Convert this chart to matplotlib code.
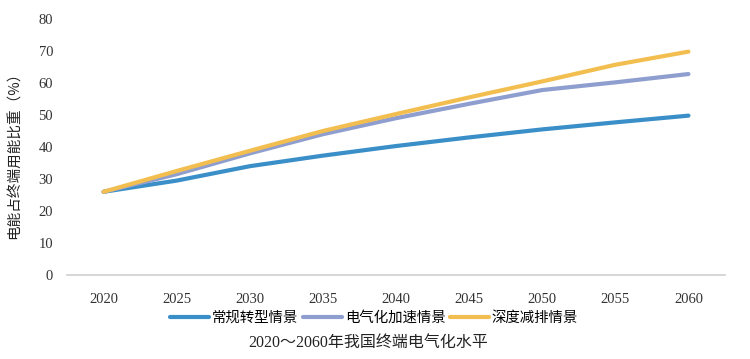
import matplotlib
matplotlib.use("Agg")
import matplotlib.pyplot as plt

years = ["2020", "2025", "2030", "2035", "2040", "2045", "2050", "2055", "2060"]
series_names = ["常规转型情景", "电气化加速情景", "深度减排情景"]
conventional = [26, 29.5, 34, 37.3, 40.3, 43, 45.5, 47.7, 49.8]
electrified = [26, 31.5, 38, 44, 49, 53.5, 57.8, 60.2, 62.8]
deep_cut = [26, 32.5, 38.8, 45, 50.3, 55.5, 60.5, 65.7, 69.8]
yticks = [0, 10, 20, 30, 40, 50, 60, 70, 80]
colors = ["#3A8FC8", "#8E9ECF", "#F3BE50"]

plt.rcParams['font.family'] = ['Noto Sans CJK SC', 'DejaVu Sans']

fig = plt.figure(figsize=(7.5, 3.59), dpi=100)
ax = fig.add_axes([67/750, 1-275/359, (725-67)/750, (275-19)/359])

x = list(range(len(years)))
for vals, name, c in zip([conventional, electrified, deep_cut], series_names, colors):
    ax.plot(x, vals, color=c, lw=3, label=name, solid_capstyle='round')

ax.set_xlim(-0.5, len(years)-0.5)
ax.set_ylim(0, 80)
ax.set_yticks(yticks)
ax.set_xticks(x)
ax.set_xticklabels(years)
for lab in ax.get_xticklabels() + ax.get_yticklabels():
    lab.set_family(['Liberation Serif'])
    lab.set_fontsize(10.5)
    lab.set_color('#333333')
ax.tick_params(axis='both', length=0)
ax.tick_params(axis='x', pad=13)
ax.tick_params(axis='y', pad=10)
for s in ['top', 'right', 'left']:
    ax.spines[s].set_visible(False)
ax.spines['bottom'].set_color('#D0D0D0')
ax.spines['bottom'].set_linewidth(1.2)

fig.text(15/750, 1-152/359, "电能占终端用能比重（%）", rotation=90, ha='center', va='center',
         fontsize=10.5, color='#222222')

leg = fig.legend(loc='center', bbox_to_anchor=(374/750, 1-318/359), ncol=3, frameon=False,
                 fontsize=10.4, handlelength=2.7, columnspacing=0.3, handletextpad=0.2)

fig.text(368/750, 1-343/359, "2020～2060年我国终端电气化水平", ha='center', va='center',
         fontsize=11.5, color='#222222', family=['Liberation Serif', 'Noto Sans CJK SC'])

fig.savefig("out.png", dpi=100)
